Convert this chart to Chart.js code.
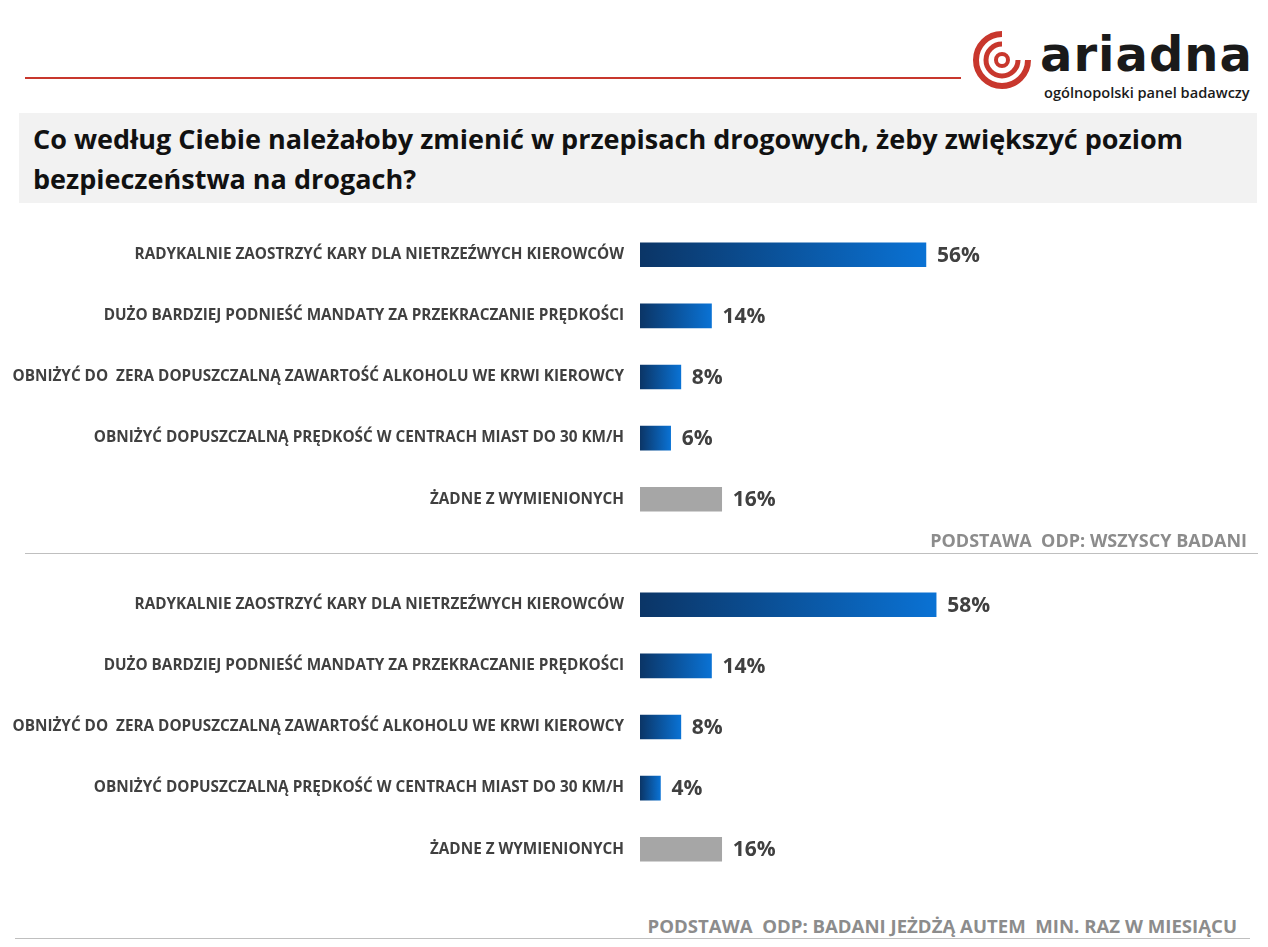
<!DOCTYPE html>
<html><head><meta charset="utf-8">
<script src="https://cdn.jsdelivr.net/npm/chart.js@4"></script>
<style>
body{margin:0;width:1268px;height:947px;position:relative;background:#fff;font-family:"Open Sans",sans-serif;overflow:hidden}
.abs{position:absolute}
#title{left:19px;top:113px;width:1238px;height:90px;background:#f2f2f2;box-sizing:border-box;padding:6px 14px;font-size:27px;font-weight:bold;line-height:40px;color:#111}
.foot{color:#8c8c8c;font-weight:bold;font-size:18px;white-space:nowrap}
.wrap{position:absolute;left:0;width:1268px;height:340px}
</style></head><body>
<div class="abs" style="left:25px;top:77px;width:936px;height:2px;background:#c8372d"></div>
<svg class="abs" style="left:972px;top:30px" width="62" height="60" viewBox="0 0 62 60">
<path d="M30 4 A26 26 0 1 0 56 30" fill="none" stroke="#c8372d" stroke-width="6"/>
<path d="M30 14 A16 16 0 1 0 46 30" fill="none" stroke="#c8372d" stroke-width="5"/>
<circle cx="30" cy="30" r="6" fill="none" stroke="#c8372d" stroke-width="4"/>
</svg>
<div class="abs" style="left:1040px;top:26px;font-size:48px;font-weight:bold;color:#1a1a1a;letter-spacing:1px;font-family:'DejaVu Sans',sans-serif">ariadna</div>
<div class="abs" style="left:1044px;top:82px;font-size:14.6px;color:#1a1a1a;font-weight:600">ogólnopolski panel badawczy</div>
<div id="title" class="abs">Co według Ciebie należałoby zmienić w przepisach drogowych, żeby zwiększyć poziom bezpieczeństwa na drogach?</div>
<div class="wrap" style="top:207px"><canvas id="c1"></canvas></div>
<div class="wrap" style="top:557px"><canvas id="c2"></canvas></div>
<div class="abs foot" style="right:21px;top:528px">PODSTAWA&nbsp; ODP: WSZYSCY BADANI</div>
<div class="abs" style="left:25px;top:553px;width:1233px;height:1px;background:#bfbfbf"></div>
<div class="abs foot" style="right:31px;top:913px;font-size:18.6px">PODSTAWA&nbsp; ODP: BADANI JEŻDŻĄ AUTEM&nbsp; MIN. RAZ W MIESIĄCU</div>
<div class="abs" style="left:15px;top:938px;width:1235px;height:1px;background:#bfbfbf"></div>
<script>
const categories=["RADYKALNIE ZAOSTRZYĆ KARY DLA NIETRZEŹWYCH KIEROWCÓW","DUŻO BARDZIEJ PODNIEŚĆ MANDATY ZA PRZEKRACZANIE PRĘDKOŚCI","OBNIŻYĆ DO  ZERA DOPUSZCZALNĄ ZAWARTOŚĆ ALKOHOLU WE KRWI KIEROWCY","OBNIŻYĆ DOPUSZCZALNĄ PRĘDKOŚĆ W CENTRACH MIAST DO 30 KM/H","ŻADNE Z WYMIENIONYCH"];
const valuesAll=[56,14,8,6,16];
const valuesDrivers=[58,14,8,4,16];
function barColor(c){
 if(c.dataIndex===4) return '#a6a6a6';
 const ch=c.chart, xs=ch.scales.x;
 if(!ch.chartArea||!xs) return '#0a6cc8';
 const x0=xs.getPixelForValue(0), x1=xs.getPixelForValue(c.raw);
 if(!isFinite(x0)||!isFinite(x1)||x1<=x0) return '#0a6cc8';
 const g=ch.ctx.createLinearGradient(x0,0,x1,0);g.addColorStop(0,'#0b3566');g.addColorStop(1,'#0a72d4');return g;
}
const labelPlugin={id:'vl',afterDatasetsDraw(chart){const ctx=chart.ctx;ctx.save();ctx.font='bold 21px "Open Sans"';ctx.fillStyle='#404040';ctx.textBaseline='middle';chart.getDatasetMeta(0).data.forEach((el,i)=>{ctx.fillText(chart.data.datasets[0].data[i]+'%',el.x+11,el.y+1);});ctx.restore();}};
function make(id,vals){
 new Chart(document.getElementById(id),{type:'bar',data:{labels:categories,datasets:[{data:vals,barThickness:24,backgroundColor:barColor}]},
 options:{indexAxis:'y',responsive:true,maintainAspectRatio:false,animation:false,layout:{padding:0},
 plugins:{legend:{display:false},tooltip:{enabled:false}},
 scales:{x:{display:false,min:0,max:123},y:{grid:{display:false},border:{display:false},ticks:{color:'#404040',font:{family:'Open Sans',weight:'bold',size:15.3},padding:8},afterFit(s){s.width=640;}}}},plugins:[labelPlugin]});
}
make('c1',valuesAll);make('c2',valuesDrivers);
</script></body></html>
